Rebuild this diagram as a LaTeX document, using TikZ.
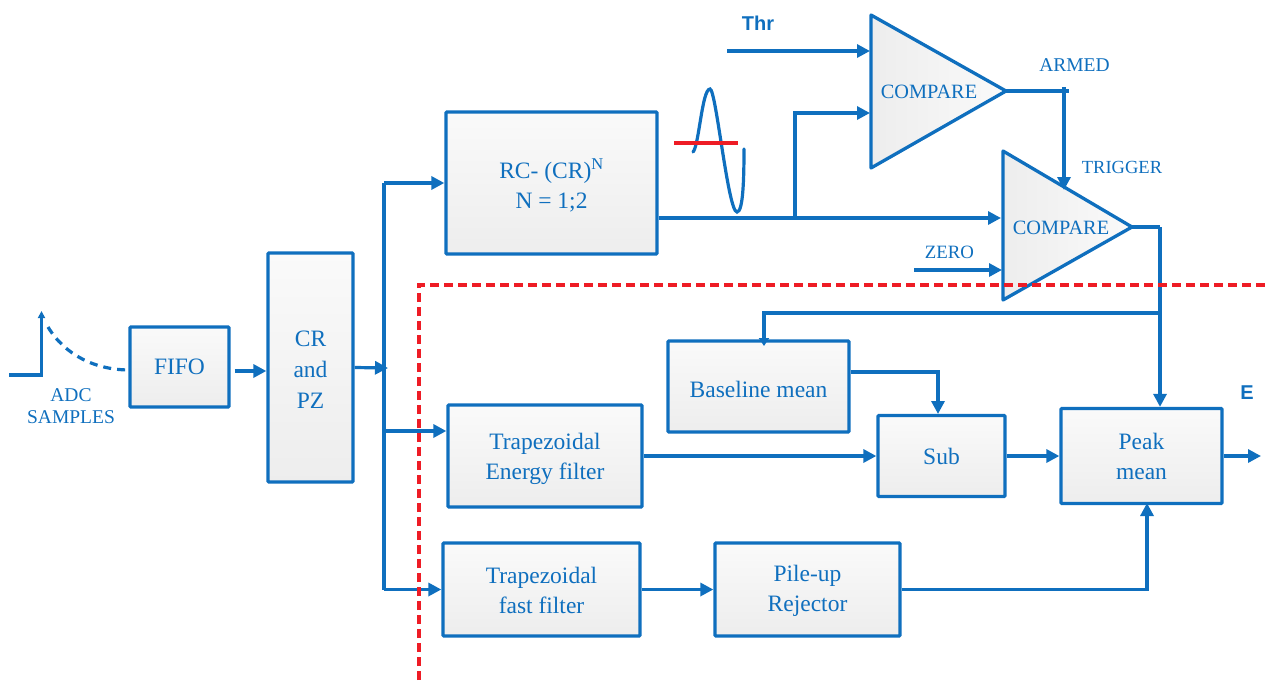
\documentclass[tikz,border=0pt]{standalone}
\usepackage{fontspec}
\setmainfont{Liberation Serif}
\newfontfamily\labelfont{Liberation Sans}
\usetikzlibrary{arrows.meta,calc}
\definecolor{sigblue}{HTML}{0F6FBE}
\definecolor{cutred}{HTML}{EE1C25}
\tikzset{
    blockbox/.style={
    draw=sigblue, line width=3.3pt, rounded corners=1pt,
    top color=white!98!black, bottom color=white!93!black, inner sep=0pt
    },
    blocktext/.style={text=sigblue, align=center, inner sep=0pt, font=\fontsize{23.5}{30}\selectfont},
    sigline/.style={draw=sigblue, line width=3.2pt},
    sigarrow/.style={sigline, -{Triangle[length=13pt,width=13pt]}},
    smalltext/.style={text=sigblue, align=center, inner sep=0pt, font=\fontsize{19.5}{22}\selectfont},
    boldtext/.style={text=sigblue, inner sep=0pt, font=\labelfont\bfseries\fontsize{20}{22}\selectfont}
}

\begin{document}
\begin{tikzpicture}[x=1pt,y=-1pt]
    \useasboundingbox (0,0) rectangle (1266,680);

    % blocks
    \foreach \name/\cx/\cy/\bw/\bh/\ty/\txt in {
        fifo/179.5/367/99/80/0/FIFO,
        crpz/310.5/367.5/85/229/-2/{CR\\[1pt]and\\[1pt]PZ},
        rcfilter/551.5/183/211/142/-2/{RC- (CR)\textsuperscript{N}\\N = 1;2},
        energy/545/456/194/102/-3/{Trapezoidal\\Energy filter},
        fastflt/541.5/589.5/197/93/-1/{Trapezoidal\\fast filter},
        baseline/758.5/386.5/181/91/-3/Baseline mean,
        sub/941.5/456/127/81/0/Sub,
        peak/1141.5/456/161/95/0/{Peak\\mean},
        pileup/807.5/589.5/185/93/-1/{Pile-up\\Rejector}}{
        \node[blockbox, minimum width=\bw pt, minimum height=\bh pt] (\name) at (\cx,\cy) {};
        \node[blocktext] (\name txt) at ([yshift=\ty pt]\name.center) {\txt};
    }

    % comparators
    \foreach \name/\xa/\ya/\yb/\xb/\yc in {cmpa/871/15/168/1006/91, cmpb/1003/151/300/1132/227}{
        \draw[draw=sigblue, line width=3.3pt, line join=round, left color=white!93!black, right color=white!98!black]
            (\xa,\ya) -- (\xa,\yb) -- (\xb,\yc) -- cycle;
        \coordinate (\name out) at (\xb,\yc);
    }
    \node[smalltext, font=\fontsize{20.3}{22}\selectfont] (cmpatxt) at (929,92) {COMPARE};
    \node[smalltext, font=\fontsize{20.3}{22}\selectfont] (cmpbtxt) at (1061,228) {COMPARE};

    % named ends
    \coordinate (thrin) at (727,51);
    \coordinate (thrend) at (870,51);
    \coordinate (zeroin) at (914,270);
    \coordinate (zeroend) at (1002,270);
    \coordinate (bustop) at (384,183);
    \coordinate (busmid) at (384,431);
    \coordinate (busbot) at (384,589.5);
    \coordinate (busin) at (388,368);
    \coordinate (tap) at (795,218);
    \coordinate (tapend) at (870,113);
    \coordinate (cmpbin) at (1001,218);
    \coordinate (armend) at (1069,91);
    \coordinate (armtop) at (1064,87);
    \coordinate (armdown) at (1064,190);
    \coordinate (trgcorner) at (1160,227);
    \coordinate (fbtap) at (1160,313);
    \coordinate (fbcorner) at (764,313);
    \coordinate (fbend) at (764,346);
    \coordinate (subin) at (938,414);
    \coordinate (peakin) at (1147,503);
    \coordinate (eout) at (1261,456);

    % front end
    \draw[sigarrow] ([yshift=-4pt,xshift=4pt]fifo.east) -- ([yshift=-3.5pt]crpz.west);
    \draw[sigarrow] (crpz.east) -- (busin);
    \draw[sigline] (bustop) -- (busbot);
    \draw[sigarrow] (bustop) -- (rcfilter.west);
    \draw[sigarrow] (busmid) -- (busmid -| energy.west);
    \draw[sigarrow] (busbot) -- (fastflt.west);

    % fast branch
    \draw[sigarrow] ([yshift=-35pt]rcfilter.east) -- (cmpbin);
    \draw[sigarrow] (tap) |- (tapend);
    \draw[sigarrow] (thrin) -- (thrend);
    \draw[sigline] (cmpaout) -- (armend);
    \draw[sigarrow] (armtop) -- (armdown);
    \draw[sigarrow] (zeroin) -- (zeroend);
    \draw[sigline, line width=4pt] (cmpbout) -- (trgcorner);
    \draw[sigarrow] (trgcorner) -- (peak.north -| trgcorner);
    \draw[sigarrow, -{Triangle[length=8pt,width=10pt]}] (fbtap) -- (fbcorner) -- (fbend);

    % energy branch
    \draw[sigarrow] ([yshift=14.5pt]baseline.east) -| (subin);
    \draw[sigarrow] (energy.east) -- (sub.west);
    \draw[sigarrow] (sub.east) -- (peak.west);
    \draw[sigarrow] (peak.east) -- (eout);
    \draw[sigarrow] (fastflt.east) -- (pileup.west);
    \draw[sigarrow] (pileup.east) -| (peakin);

    % input pulse and waveform
    \draw[sigline, -{Triangle[length=7pt,width=7pt]}] (9,375) -- (41.5,375) -- (41.5,311);
    \draw[sigline, dash pattern=on 8pt off 6pt] (48,327) .. controls (65,355) and (95,370) .. (130,370);
    \draw[sigline, line cap=round] (693,152) .. controls (699,146) and (702,89) .. (710,89)
        .. controls (716,89) and (728,212) .. (737,212) .. controls (743,212) and (744,180) .. (744,149);
    \draw[draw=cutred, line width=3.2pt] (674,143) -- (738,143);

    % cut line
    \draw[draw=cutred, line width=3.2pt, dash pattern=on 9pt off 5pt] (419,680) -- (419,285) -- (1266,285);

    % labels
    \node[smalltext] (adctxt) at (71,406) {ADC\\SAMPLES};
    \node[smalltext] (armedtxt) at (1074.5,65) {ARMED};
    \node[smalltext, font=\fontsize{18.5}{22}\selectfont] (trgtxt) at (1122,167) {TRIGGER};
    \node[smalltext, font=\fontsize{18.8}{22}\selectfont] (zerotxt) at (949.5,252) {ZERO};
    \node[boldtext] (thrtxt) at (758,23) {Thr};
    \node[boldtext] (etxt) at (1247,393) {E};
\end{tikzpicture}
\end{document}
